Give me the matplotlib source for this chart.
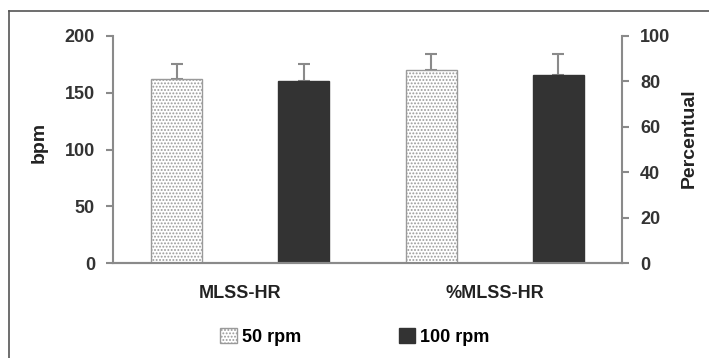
import matplotlib
matplotlib.use("Agg")
import matplotlib.pyplot as plt
from matplotlib.lines import Line2D
from matplotlib.patches import Patch

categories = ["MLSS-HR", "%MLSS-HR"]
series_names = ["50 rpm", "100 rpm"]
bpm_mean = [162, 160]          # MLSS-HR (left axis, bpm)
bpm_err = [13, 15]
pct_mean = [85, 83]            # %MLSS-HR (right axis, percentual)
pct_err = [7, 9]
left_ticks = [0, 50, 100, 150, 200]
right_ticks = [0, 20, 40, 60, 80, 100]

plt.rcParams['font.family'] = ['Liberation Sans', 'DejaVu Sans']
plt.rcParams['font.weight'] = 'bold'
plt.rcParams['hatch.linewidth'] = 0.9

fig = plt.figure(figsize=(7.09, 3.58), dpi=100)
ax = fig.add_axes([113/709, 1-263/358, (622-113)/709, (263-36)/358])
ax2 = ax.twinx()

grey = "#8a8a8a"
lightedge = "#9a9a9a"
dark = "#333333"
w = 0.2
off = 0.25
face = ["white", dark]
hatch = [".....", None]
edge = [lightedge, dark]
fs = 13

for i, name in enumerate(series_names):
    xo = (-off if i == 0 else off)
    ax.bar(0 + xo, bpm_mean[i], width=w, color=face[i], edgecolor=edge[i],
           hatch=hatch[i], linewidth=1.0, zorder=2)
    ax.errorbar(0 + xo, bpm_mean[i], yerr=[[0], [bpm_err[i]]], fmt='none',
                ecolor=grey, elinewidth=1.5, capsize=4, capthick=1.5, zorder=1)
    ax2.bar(1 + xo, pct_mean[i], width=w, color=face[i], edgecolor=edge[i],
            hatch=hatch[i], linewidth=1.0, zorder=2)
    ax2.errorbar(1 + xo, pct_mean[i], yerr=[[0], [pct_err[i]]], fmt='none',
                 ecolor=grey, elinewidth=1.5, capsize=4, capthick=1.5, zorder=1)

ax.set_xlim(-0.5, 1.5)
ax.set_ylim(0, 200)
ax2.set_ylim(0, 100)
ax.set_yticks(left_ticks)
ax2.set_yticks(right_ticks)
ax.set_xticks([0, 1])
ax.set_xticklabels(categories, fontsize=fs, fontweight='bold', color='#222222')
ax.tick_params(axis='x', length=0, pad=16)
ax.tick_params(axis='y', length=5, color=grey, width=1.5, labelsize=fs, labelcolor='#333333', pad=8)
ax2.tick_params(axis='y', length=5, color=grey, width=1.5, labelsize=fs, labelcolor='#333333', pad=8)

for a in (ax, ax2):
    a.spines['top'].set_visible(False)
    for s in ('left', 'right', 'bottom'):
        a.spines[s].set_color(grey)
        a.spines[s].set_linewidth(1.5)
ax.spines['right'].set_visible(False)
ax2.spines['left'].set_visible(False)

ax.set_ylabel("bpm", fontsize=14, fontweight='bold', color='#222222')
ax2.set_ylabel("Percentual", fontsize=14, fontweight='bold', color='#222222')
ax.yaxis.set_label_coords(-0.128, 0.529)
ax2.yaxis.set_label_coords(1.116, 0.551)

handles = [Patch(facecolor='white', edgecolor=lightedge, hatch='.....'),
           Patch(facecolor=dark, edgecolor=dark)]
fig.legend(handles, series_names, loc='center', bbox_to_anchor=(355/709, 1-337/358),
           ncol=2, frameon=False, handlelength=0.9, handleheight=0.9,
           handletextpad=0.3, columnspacing=5.4, prop={'weight': 'bold', 'size': fs})

# figure frame lines (top and left)
fig.add_artist(Line2D([9/709, 1.0], [1-11/358, 1-11/358], transform=fig.transFigure,
                      color='#555555', linewidth=1.2))
fig.add_artist(Line2D([9/709, 9/709], [0, 1-11/358], transform=fig.transFigure,
                      color='#555555', linewidth=1.2))

fig.savefig("out.png", dpi=100)
